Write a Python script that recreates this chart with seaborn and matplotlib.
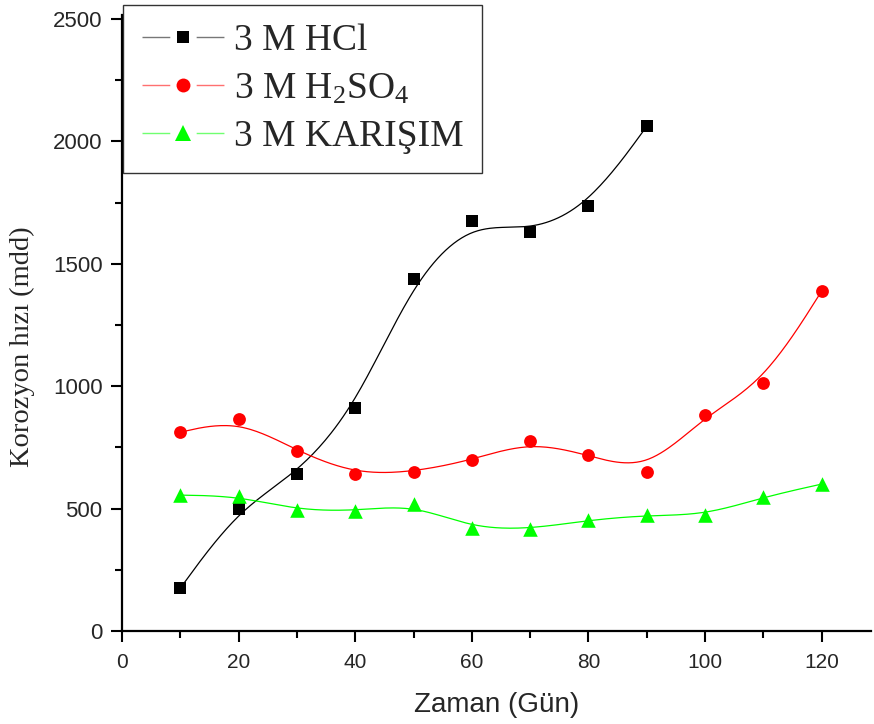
import numpy as np
import pandas as pd
import matplotlib
matplotlib.use("Agg")
import matplotlib.pyplot as plt
from matplotlib.lines import Line2D
from matplotlib.ticker import MultipleLocator
import seaborn as sns

days = [10, 20, 30, 40, 50, 60, 70, 80, 90, 100, 110, 120]
hcl = [175, 500, 640, 910, 1437, 1673, 1629, 1735, 2061]
h2so4 = [812, 865, 735, 640, 649, 698, 775, 718, 649, 882, 1012, 1388]
karisim = [555, 551, 494, 490, 518, 420, 416, 453, 473, 473, 547, 600]

labels = ["3 M HCl", "3 M H$_\\mathrm{2}$SO$_\\mathrm{4}$", "3 M KARIŞIM"]
colors = ["black", "#ff0000", "#00ff00"]
legend_line_colors = ["#777777", "#ff7070", "#70ff70"]
markers = ["s", "o", "^"]
msizes = [80, 85, 110]


def bspline(xs, ys, n=30):
    # clamped uniform cubic B-spline, data points used as control points (Origin style)
    P = np.column_stack([xs, ys]).astype(float)
    P = np.vstack([P[:1], P[:1], P, P[-1:], P[-1:]])
    t = np.linspace(0, 1, n)[:, None]
    b0 = (1 - t) ** 3 / 6
    b1 = (3 * t**3 - 6 * t**2 + 4) / 6
    b2 = (-3 * t**3 + 3 * t**2 + 3 * t + 1) / 6
    b3 = t**3 / 6
    segs = [b0 * P[i] + b1 * P[i + 1] + b2 * P[i + 2] + b3 * P[i + 3] for i in range(len(P) - 3)]
    c = np.vstack(segs)
    return c[:, 0], c[:, 1]


sns.set_style("ticks")
plt.rcParams["font.family"] = ["Liberation Sans", "DejaVu Sans"]
plt.rcParams["mathtext.fontset"] = "custom"
plt.rcParams["mathtext.rm"] = "Liberation Serif"
plt.rcParams["mathtext.it"] = "Liberation Serif:italic"

fig = plt.figure(figsize=(8.74, 7.24), dpi=100)
ax = fig.add_axes([122 / 874, 93 / 724, 128.5 * 5.83 / 874, 616 / 724])

series = [hcl, h2so4, karisim]
for vals, col, mk, ms in zip(series, colors, markers, msizes):
    x = days[:len(vals)]
    cx, cy = bspline(x, vals)
    sns.lineplot(x=cx, y=cy, sort=False, estimator=None, color=col, linewidth=0.9, ax=ax)
    df = pd.DataFrame({"x": x, "y": vals})
    sns.scatterplot(data=df, x="x", y="y", marker=mk, s=ms, color=col, linewidth=0, ax=ax, zorder=3)

ax.set_xlim(0, 128.5)
ax.set_ylim(0, 2516)
ax.xaxis.set_major_locator(MultipleLocator(20))
ax.xaxis.set_minor_locator(MultipleLocator(10))
ax.yaxis.set_major_locator(MultipleLocator(500))
ax.yaxis.set_minor_locator(MultipleLocator(250))
ax.tick_params(which="major", length=8, width=1.5, direction="out", color="black")
ax.tick_params(which="minor", length=5, width=1.5, direction="out", color="black")
ax.tick_params(axis="y", labelsize=16, pad=6)
ax.tick_params(axis="x", labelsize=15, pad=8)
sns.despine(ax=ax)
for s in ["left", "bottom"]:
    ax.spines[s].set_linewidth(1.6)
    ax.spines[s].set_color("black")

ax.set_xlabel("Zaman (Gün)", fontsize=20, labelpad=14)
ax.set_ylabel("Korozyon hızı (mdd)", fontsize=20.5, family="Liberation Serif")
ax.yaxis.set_label_coords(-0.116, 0.462)

handles = [
    Line2D([], [], color=lc, lw=1, linestyle=(0, (20, 19, 20, 200)),
           marker=m, markersize=s, markeredgewidth=0, markerfacecolor=c)
    for c, lc, m, s in zip(colors, legend_line_colors, markers, [9, 10, 11])
]
leg = fig.legend(handles, labels, loc="upper left", bbox_to_anchor=(123 / 874, 1 - 5 / 724),
                 bbox_transform=fig.transFigure, frameon=True, fancybox=False,
                 edgecolor="black", prop={"family": "Liberation Serif", "size": 27},
                 handlelength=2.2, handletextpad=0.25, labelspacing=0.36, borderpad=0.5,
                 borderaxespad=0, numpoints=1)
leg.get_frame().set_linewidth(1.0)

fig.savefig("out.png", dpi=100)
